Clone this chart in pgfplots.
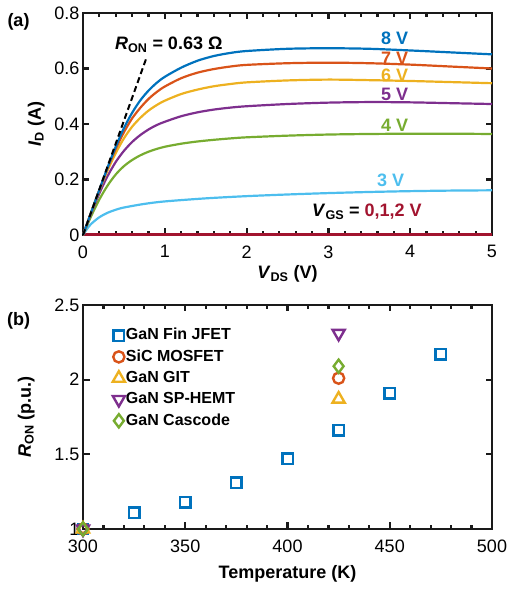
\documentclass[border=0pt]{standalone}
\usepackage{pgfplots}
\pgfplotsset{compat=1.18}
\usepackage{fontspec}
\setmainfont{Liberation Sans}

\definecolor{mblue}{HTML}{0072BD}
\definecolor{morange}{HTML}{D95319}
\definecolor{myellow}{HTML}{EDB120}
\definecolor{mpurple}{HTML}{7E2F8E}
\definecolor{mgreen}{HTML}{77AC30}
\definecolor{mcyan}{HTML}{4DBEEE}
\definecolor{mred}{HTML}{A2142F}
\definecolor{frame}{HTML}{1A1A1A}

\pgfplotsset{
  panel/.style={
    scale only axis,
    anchor=south west,
    width=409pt,
    axis line style={frame, line width=2.2pt},
    tick style={frame, line width=2.2pt},
    major tick length=6.5pt,
    minor tick length=4pt,
    tick align=inside,
    /pgf/number format/assume math mode=true,
    tick label style={font=\fontsize{18}{21}\selectfont},
    xticklabel style={yshift=-7pt},
    label style={font=\bfseries\fontsize{18}{21}\selectfont},
    ylabel style={yshift=3pt},
    clip=false,
  },
}

\begin{document}
\begin{tikzpicture}
\path (0pt,0pt) rectangle (508pt,589pt);

% (a) output characteristics
\begin{axis}[panel,
    at={(83pt,354pt)},
    height=222pt,
    xmin=0, xmax=5, ymin=0, ymax=0.8,
    xtick={0,1,2,3,4,5},
    ytick={0,0.2,0.4,0.6,0.8},
    minor x tick num=4,
    xlabel={\textit{V}\textsubscript{DS} (V)},
    ylabel={\textit{I}\textsubscript{D} (A)},
    every axis plot/.append style={line width=2.2pt, smooth},
]
\addplot[mred, line width=3pt, sharp plot] coordinates {(0,0) (5,0)};
\addplot[mcyan] coordinates {
  (0,0) (0.05,0.022) (0.1,0.04) (0.2,0.064) (0.3,0.08) (0.4,0.091) (0.5,0.099) (0.75,0.112) (1,0.121)
  (1.5,0.132) (2,0.14) (2.5,0.146) (3,0.151) (3.5,0.155) (4,0.158) (4.5,0.16) (5,0.161)};
\addplot[mgreen] coordinates {
  (0,0) (0.1,0.068) (0.2,0.128) (0.3,0.178) (0.4,0.218) (0.5,0.248) (0.6,0.27) (0.7,0.287)
  (0.8,0.3) (0.9,0.31) (1,0.318) (1.2,0.329) (1.4,0.337) (1.6,0.343) (1.8,0.348) (2,0.352)
  (2.5,0.358) (3,0.362) (3.5,0.364) (4,0.365) (4.5,0.365) (5,0.364)};
\addplot[mpurple] coordinates {
  (0,0) (0.1,0.078) (0.2,0.15) (0.3,0.212) (0.4,0.263) (0.5,0.303) (0.6,0.335) (0.7,0.36)
  (0.8,0.38) (0.9,0.396) (1,0.408) (1.2,0.428) (1.4,0.442) (1.6,0.452) (1.8,0.459) (2,0.464)
  (2.5,0.472) (3,0.477) (3.5,0.479) (4,0.478) (4.5,0.475) (5,0.472)};
\addplot[myellow] coordinates {
  (0,0) (0.1,0.081) (0.2,0.16) (0.3,0.232) (0.4,0.295) (0.5,0.348) (0.6,0.39) (0.7,0.422)
  (0.8,0.448) (0.9,0.468) (1,0.484) (1.2,0.508) (1.4,0.524) (1.6,0.536) (1.8,0.544) (2,0.55)
  (2.5,0.557) (3,0.56) (3.5,0.558) (4,0.555) (4.5,0.551) (5,0.547)};
\addplot[morange] coordinates {
  (0,0) (0.1,0.082) (0.2,0.162) (0.3,0.24) (0.4,0.31) (0.5,0.37) (0.6,0.42) (0.7,0.458)
  (0.8,0.49) (0.9,0.515) (1,0.535) (1.2,0.565) (1.4,0.585) (1.6,0.598) (1.8,0.607) (2,0.613)
  (2.5,0.619) (3,0.621) (3.5,0.619) (4,0.614) (4.5,0.607) (5,0.60)};
\addplot[mblue] coordinates {
  (0,0) (0.1,0.082) (0.2,0.163) (0.3,0.243) (0.4,0.318) (0.5,0.385) (0.6,0.44) (0.7,0.485)
  (0.8,0.52) (0.9,0.548) (1,0.57) (1.2,0.603) (1.4,0.628) (1.6,0.645) (1.8,0.656) (2,0.663)
  (2.5,0.671) (3,0.673) (3.5,0.671) (4,0.665) (4.5,0.658) (5,0.651)};
\addplot[black, line width=2pt, dash pattern=on 6pt off 3.5pt, sharp plot] coordinates {(0,0) (0.774,0.637)};

\begin{scope}[every node/.style={font=\bfseries\fontsize{18}{21}\selectfont, anchor=base}]
\node[mblue]    at (axis cs:3.81,0.685) {8 V};
\node[morange]  at (axis cs:3.81,0.613) {7 V};
\node[myellow]  at (axis cs:3.81,0.552) {6 V};
\node[mpurple]  at (axis cs:3.81,0.486) {5 V};
\node[mgreen]   at (axis cs:3.81,0.372) {4 V};
\node[mcyan]    at (axis cs:3.76,0.174) {3 V};
\node[anchor=base west, inner sep=0pt] at (axis cs:2.80,0.065) {\textit{V}\textsubscript{GS} = \textcolor{mred}{0,1,2 V}};
\node[anchor=base west, inner sep=0pt] at (axis cs:0.39,0.667) {\textit{R}\textsubscript{ON} = 0.63 Ω};
\end{scope}
\end{axis}

% (b) on-resistance vs temperature
\begin{axis}[panel,
    at={(83pt,60pt)},
    height=224pt,
    xmin=300, xmax=500, ymin=1, ymax=2.5,
    xtick={300,350,400,450,500},
    ytick={1,1.5,2,2.5},
    minor x tick num=4,
    xlabel={Temperature (K)},
    xlabel style={yshift=-6pt},
    ylabel={\textit{R}\textsubscript{ON} (p.u.)},
    ylabel style={yshift=10pt},
    every axis plot/.append style={only marks, line width=2.4pt, mark options={solid}},
    legend cell align=left,
    legend style={draw=none, fill=none, at={(0.065,0.91)}, anchor=north west,
      font=\bfseries\fontsize{16}{19}\selectfont,
      nodes={inner sep=1pt, text height=11.5pt, text depth=3pt},
      row sep=4.8pt},
    legend image code/.code={\draw[#1] plot coordinates {(0pt,0pt)};},
]
\addplot[mblue, mark=square, mark size=5.2pt] coordinates {
  (300,1) (325,1.11) (350,1.18) (375,1.31) (400,1.47) (425,1.66) (450,1.91) (475,2.17)};
\addlegendentry{GaN Fin JFET}
\addplot[morange, mark=o, mark size=5.6pt] coordinates {(300,1) (425,2.01)};
\addlegendentry{SiC MOSFET}
\addplot[myellow, mark=triangle, mark size=7pt] coordinates {(300,1) (425,1.87)};
\addlegendentry{GaN GIT}
\addplot[mpurple, mark=triangle, mark size=7pt, mark options={rotate=180}] coordinates {(300,1) (425,2.31)};
\addlegendentry{GaN SP-HEMT}
\addplot[mgreen, mark=diamond, mark size=6.6pt] coordinates {(300,1) (425,2.09)};
\addlegendentry{GaN Cascode}
\end{axis}

\node[font=\bfseries\fontsize{18}{21}\selectfont] at (18.5pt,567.5pt) {(a)};
\node[font=\bfseries\fontsize{18}{21}\selectfont] at (18.5pt,268pt) {(b)};
\end{tikzpicture}
\end{document}
